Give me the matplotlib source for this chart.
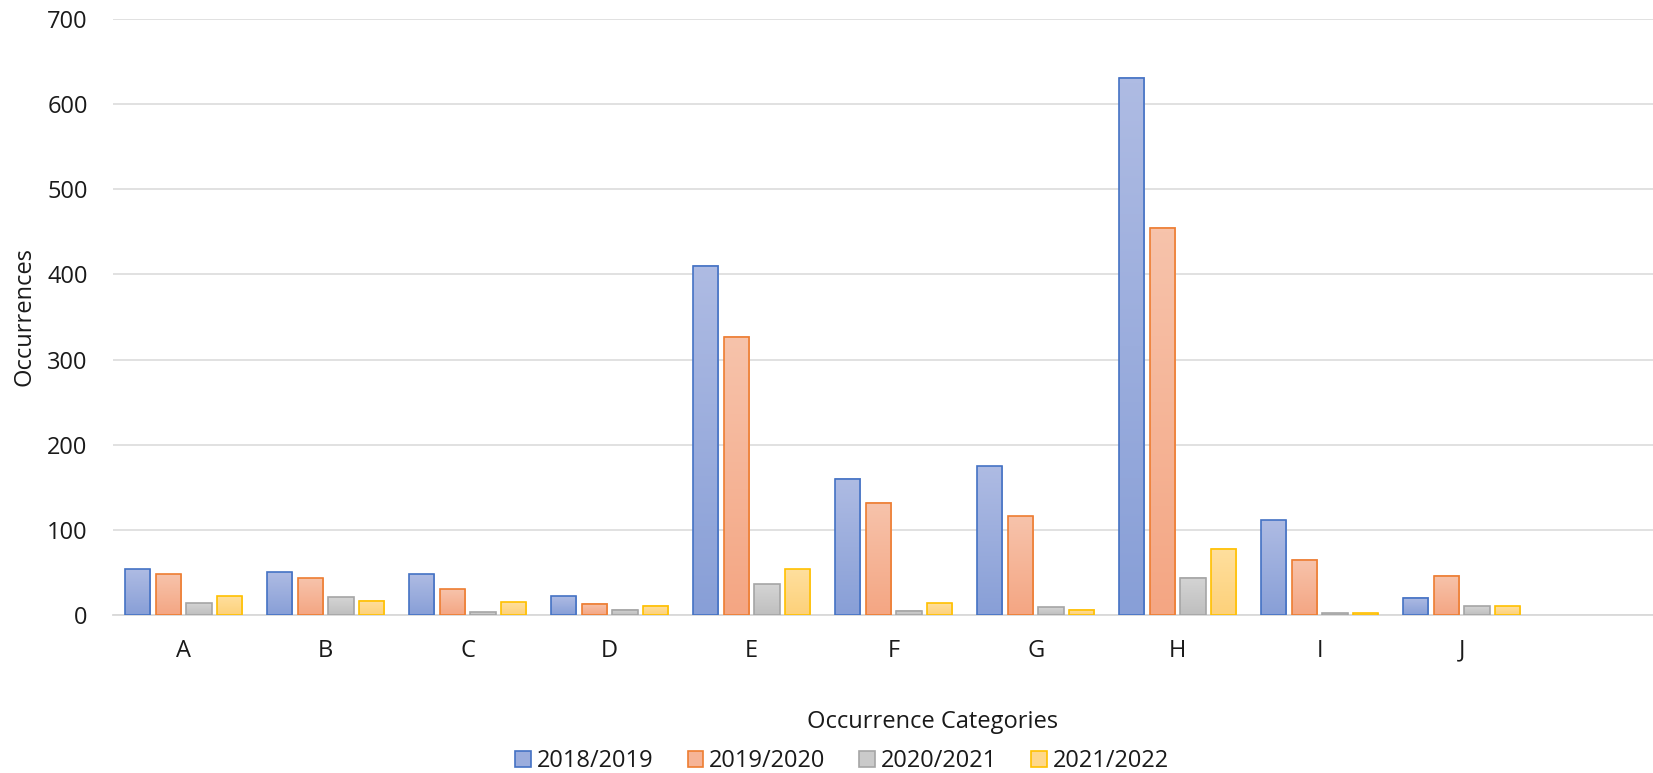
import numpy as np
import matplotlib
matplotlib.use("Agg")
import matplotlib.pyplot as plt
from matplotlib.colors import LinearSegmentedColormap
from matplotlib.patches import Patch

### DATA
categories = ['A', 'B', 'C', 'D', 'E', 'F', 'G', 'H', 'I', 'J']
seasons = ['2018/2019', '2019/2020', '2020/2021', '2021/2022']
v2018 = [54, 50, 48, 22, 410, 160, 175, 631, 111, 20]
v2019 = [48, 43, 30, 13, 327, 132, 116, 455, 65, 46]
v2020 = [14, 21, 3, 6, 36, 5, 9, 44, 2, 10]
v2021 = [22, 17, 15, 11, 54, 14, 6, 78, 2, 10]

### STYLE: edge colour, gradient top, gradient bottom
edgeColors = ['#4472c4', '#ed7d31', '#a5a5a5', '#ffc000']
topColors = ['#aebbe3', '#f7c3ab', '#d4d4d4', '#ffdf9e']
bottomColors = ['#889fd7', '#f4a683', '#bfbfbf', '#fdd17a']

plt.rcParams['font.family'] = ['Open Sans', 'DejaVu Sans']
fs = 17

fig = plt.figure(figsize=(16.53, 7.73), dpi=100)
ax = fig.add_axes([112.7 / 1653, 1 - 615 / 773, 1 - 112.7 / 1653, (615 - 19) / 773])

series = [v2018, v2019, v2020, v2021]
x = np.arange(len(categories))
pitch = 0.216
width = 0.178

for i, vals in enumerate(series):
  cmap = LinearSegmentedColormap.from_list('g' + str(i), [bottomColors[i], topColors[i]])
  grad = np.linspace(0, 1, 64).reshape(-1, 1)
  pos = x + (i - 1.5) * pitch
  bars = ax.bar(pos, vals, width=width, facecolor='none', edgecolor=edgeColors[i],
                linewidth=1.2, zorder=4)
  for b in bars:
    x0, y0 = b.get_x(), b.get_y()
    ax.imshow(grad, extent=[x0, x0 + b.get_width(), y0, y0 + b.get_height()],
              origin='lower', aspect='auto', cmap=cmap, zorder=3, interpolation='bilinear')

ax.set_xlim(-0.5, -0.5 + (1653 - 112.7) / 142.0)
ax.set_ylim(0, 700)
ax.set_yticks(range(0, 701, 100))
ax.set_xticks(x)
ax.set_xticklabels(categories)
ax.set_aspect('auto')

ax.grid(axis='y', color='#d9d9d9', linewidth=1.1, zorder=0)
ax.set_axisbelow(True)
for s in ['top', 'right', 'left']:
  ax.spines[s].set_visible(False)
ax.spines['bottom'].set_color('#d9d9d9')
ax.spines['bottom'].set_linewidth(1.3)
ax.tick_params(axis='both', length=0, labelsize=fs, colors='#1a1a1a')
ax.tick_params(axis='y', pad=18)
ax.tick_params(axis='x', pad=17)

fig.text(25 / 1653, 1 - 317 / 773, 'Occurrences', rotation=90, ha='center', va='center',
         fontsize=fs, color='#1a1a1a')
fig.text(933 / 1653, 1 - 722 / 773, 'Occurrence Categories', ha='center', va='center',
         fontsize=fs, color='#1a1a1a')

handles = [Patch(facecolor=(np.array(matplotlib.colors.to_rgb(topColors[i])) +
                            np.array(matplotlib.colors.to_rgb(bottomColors[i]))) / 2,
                 edgecolor=edgeColors[i], linewidth=1.2) for i in range(4)]
leg = fig.legend(handles, seasons, loc='center', bbox_to_anchor=(842 / 1653, 1 - 761 / 773),
                 ncol=4, frameon=False, fontsize=fs, handlelength=0.65, handleheight=0.65,
                 handletextpad=0.25, columnspacing=1.45, borderpad=0)
for t in leg.get_texts():
  t.set_color('#1a1a1a')

fig.savefig('out.png', dpi=100)
